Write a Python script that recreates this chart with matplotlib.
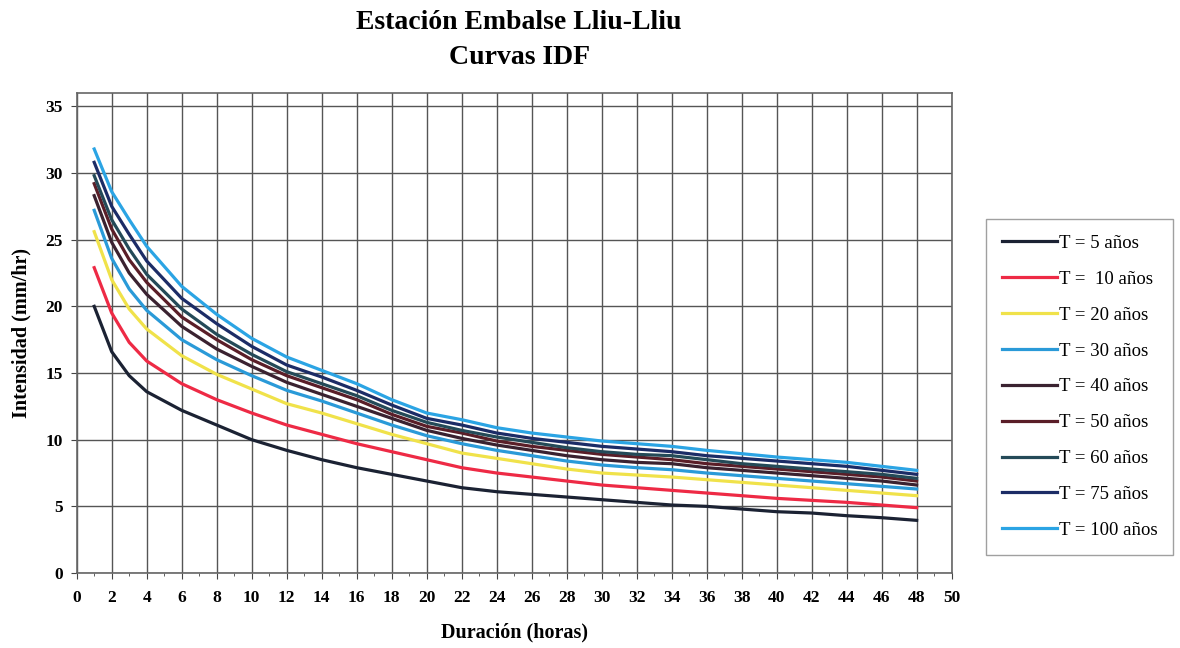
import matplotlib
matplotlib.use("Agg")
from matplotlib import pyplot as plt
from matplotlib.ticker import MultipleLocator

# duration in hours
duration = [1, 2, 3, 4, 6, 8, 10, 12, 14, 16, 18, 20, 22, 24, 26, 28, 30,
            32, 34, 36, 38, 40, 42, 44, 46, 48]

# intensity (mm/hr) per return period
t5 = [20.0, 16.6, 14.8, 13.6, 12.2, 11.1, 10.0, 9.2, 8.5, 7.9, 7.4, 6.9, 6.4,
      6.1, 5.9, 5.7, 5.5, 5.3, 5.1, 5.0, 4.8, 4.6, 4.5, 4.3, 4.15, 3.95]
t10 = [22.9, 19.5, 17.3, 15.9, 14.2, 13.0, 12.0, 11.1, 10.4, 9.7, 9.1, 8.5, 7.9,
       7.5, 7.2, 6.9, 6.6, 6.4, 6.2, 6.0, 5.8, 5.6, 5.45, 5.3, 5.1, 4.9]
t20 = [25.6, 22.0, 19.8, 18.3, 16.3, 14.9, 13.8, 12.7, 12.0, 11.2, 10.4, 9.7, 9.0,
       8.6, 8.2, 7.8, 7.5, 7.35, 7.2, 7.0, 6.8, 6.6, 6.4, 6.2, 6.0, 5.8]
t30 = [27.2, 23.6, 21.3, 19.7, 17.5, 16.0, 14.8, 13.7, 12.9, 12.0, 11.1, 10.3, 9.7,
       9.2, 8.8, 8.4, 8.1, 7.9, 7.75, 7.5, 7.3, 7.1, 6.9, 6.7, 6.5, 6.3]
t40 = [28.3, 24.8, 22.5, 20.9, 18.5, 16.8, 15.5, 14.3, 13.4, 12.5, 11.6, 10.7, 10.1,
       9.6, 9.2, 8.8, 8.5, 8.3, 8.2, 7.9, 7.7, 7.5, 7.3, 7.1, 6.9, 6.6]
t50 = [29.2, 25.8, 23.5, 21.8, 19.2, 17.5, 16.0, 14.8, 13.9, 13.0, 11.9, 11.0, 10.5,
       9.9, 9.5, 9.2, 8.9, 8.7, 8.5, 8.2, 8.0, 7.8, 7.6, 7.4, 7.2, 6.9]
t60 = [29.8, 26.5, 24.3, 22.4, 19.8, 17.9, 16.4, 15.1, 14.2, 13.3, 12.2, 11.3, 10.7,
       10.2, 9.8, 9.4, 9.1, 8.9, 8.8, 8.5, 8.2, 8.0, 7.8, 7.6, 7.4, 7.1]
t75 = [30.8, 27.5, 25.4, 23.4, 20.6, 18.7, 17.0, 15.6, 14.7, 13.7, 12.6, 11.6, 11.1,
       10.5, 10.1, 9.8, 9.5, 9.3, 9.1, 8.8, 8.6, 8.4, 8.2, 8.0, 7.7, 7.4]
t100 = [31.8, 28.6, 26.5, 24.5, 21.5, 19.4, 17.6, 16.2, 15.2, 14.2, 13.0, 12.0, 11.5,
        10.9, 10.5, 10.2, 9.9, 9.7, 9.5, 9.2, 8.95, 8.7, 8.5, 8.3, 8.0, 7.7]

labels = ["T = 5 años", "T =  10 años", "T = 20 años", "T = 30 años", "T = 40 años",
          "T = 50 años", "T = 60 años", "T = 75 años", "T = 100 años"]
series = [t5, t10, t20, t30, t40, t50, t60, t75, t100]
colors = ["#1b2233", "#ee2a45", "#f0e24a", "#2a9ad8", "#3a2230",
          "#5a1e28", "#244a58", "#1c2c66", "#2ba4e4"]

plt.rcParams["font.family"] = ["Liberation Serif", "DejaVu Serif"]

fig = plt.figure(figsize=(11.8, 6.48), dpi=100)
ax = fig.add_axes([0.065, 0.1157, 0.7415, 0.7408])

for values, label, color in zip(series, labels, colors):
    ax.plot(duration, values, color=color, linewidth=2.3, label=label)

ax.set_xlim(0, 50)
ax.set_ylim(0, 36)
ax.xaxis.set_major_locator(MultipleLocator(2))
ax.xaxis.set_minor_locator(MultipleLocator(1))
ax.yaxis.set_major_locator(MultipleLocator(5))
ax.grid(True, which="major", color="#555555", linewidth=1.0)
ax.tick_params(axis="both", which="major", direction="out", length=4,
               labelsize=12.5, color="#444444")
ax.tick_params(axis="x", which="major", pad=8)
ax.tick_params(axis="y", which="major", pad=6)
ax.tick_params(axis="x", which="minor", direction="out", length=2, color="#444444")
for lbl in ax.get_xticklabels() + ax.get_yticklabels():
    lbl.set_fontweight("bold")
for spine in ax.spines.values():
    spine.set_color("#666666")
    spine.set_linewidth(1.2)

ax.set_xlabel("Duración (horas)", fontsize=14.5, fontweight="bold", labelpad=12)
ax.set_ylabel("Intensidad (mm/hr)", fontsize=14.5, fontweight="bold", labelpad=10)

fig.text(0.44, 0.965, "Estación Embalse Lliu-Lliu", ha="center", va="center",
         fontsize=20, fontweight="bold")
fig.text(0.44, 0.911, "Curvas IDF", ha="center", va="center",
         fontsize=20, fontweight="bold")

leg = fig.legend(loc="center left", bbox_to_anchor=(0.836, 0.403),
                 prop={"size": 13.5}, frameon=True, fancybox=False,
                 handlelength=2.9, handletextpad=0.1, labelspacing=1.0,
                 borderpad=0.85, borderaxespad=0, edgecolor="#888888")
leg.get_frame().set_linewidth(1.0)

fig.savefig("out.png", dpi=100)
